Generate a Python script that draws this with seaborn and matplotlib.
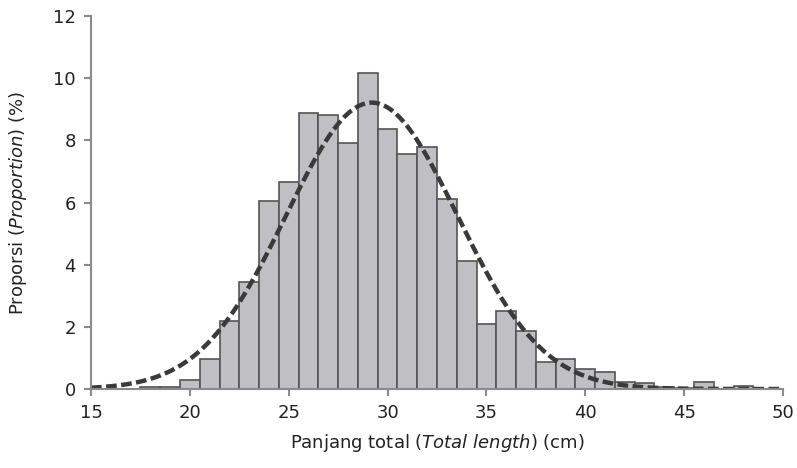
import numpy as np
import pandas as pd
import matplotlib
matplotlib.use("Agg")
import matplotlib.pyplot as plt
import seaborn as sns

# Bin centres (cm) and proportions (%)
length_cm = [18, 19, 20, 21, 22, 23, 24, 25, 26, 27, 28, 29, 30, 31, 32, 33,
             34, 35, 36, 37, 38, 39, 40, 41, 42, 43, 44, 45, 46, 47, 48]
proportion = [0.05, 0.05, 0.3, 0.98, 2.2, 3.45, 6.04, 6.66, 8.87, 8.82, 7.9, 10.16,
              8.36, 7.56, 7.8, 6.11, 4.12, 2.09, 2.52, 1.87, 0.88, 0.97, 0.64, 0.54,
              0.22, 0.2, 0.08, 0.03, 0.22, 0.0, 0.1]

# Fitted normal curve parameters (as drawn in the figure)
fit_mean = 29.2
fit_sd = 4.33

x_ticks = [15, 20, 25, 30, 35, 40, 45, 50]
y_ticks = [0, 2, 4, 6, 8, 10, 12]

sns.set_theme(style="white")
plt.rcParams['font.family'] = ['DejaVu Sans']

fig = plt.figure(figsize=(7.97, 4.68), dpi=100)
ax = fig.add_axes([0.1142, 0.1688, 0.8682, 0.797])

df = pd.DataFrame({"length": length_cm, "prop": proportion})
sns.histplot(data=df, x="length", weights="prop", binwidth=1.0, binrange=(17.5, 48.5),
             color="#c0c0c4", edgecolor="#555555", linewidth=1.2, alpha=1.0, ax=ax)

xs = np.linspace(15, 50, 400)
curve = 100.0 / (fit_sd * np.sqrt(2 * np.pi)) * np.exp(-0.5 * ((xs - fit_mean) / fit_sd) ** 2)
sns.lineplot(x=xs, y=curve, ax=ax, color="#3a3a3a", linewidth=3.2,
             linestyle=(0, (2.4, 1.0)))

ax.set_xlim(15, 50)
ax.set_ylim(0, 12)
ax.set_xticks(x_ticks)
ax.set_yticks(y_ticks)
ax.set_xticklabels([str(v) for v in x_ticks], fontsize=13, color="#222222")
ax.set_yticklabels([str(v) for v in y_ticks], fontsize=13, color="#222222")

for side in ["top", "right"]:
    ax.spines[side].set_visible(False)
for side in ["left", "bottom"]:
    ax.spines[side].set_color("#8a8a8a")
    ax.spines[side].set_linewidth(1.5)
ax.tick_params(axis="both", which="major", direction="out", length=5, width=1.5,
               color="#8a8a8a", pad=6, bottom=True, left=True)

ax.set_xlabel("Panjang total ($\\it{Total\\ length}$) (cm)", fontsize=13,
              color="#222222", labelpad=7)
ax.set_ylabel("Proporsi ($\\it{Proportion}$) (%)", fontsize=13,
              color="#222222", labelpad=17)

fig.savefig("out.png", dpi=100)
